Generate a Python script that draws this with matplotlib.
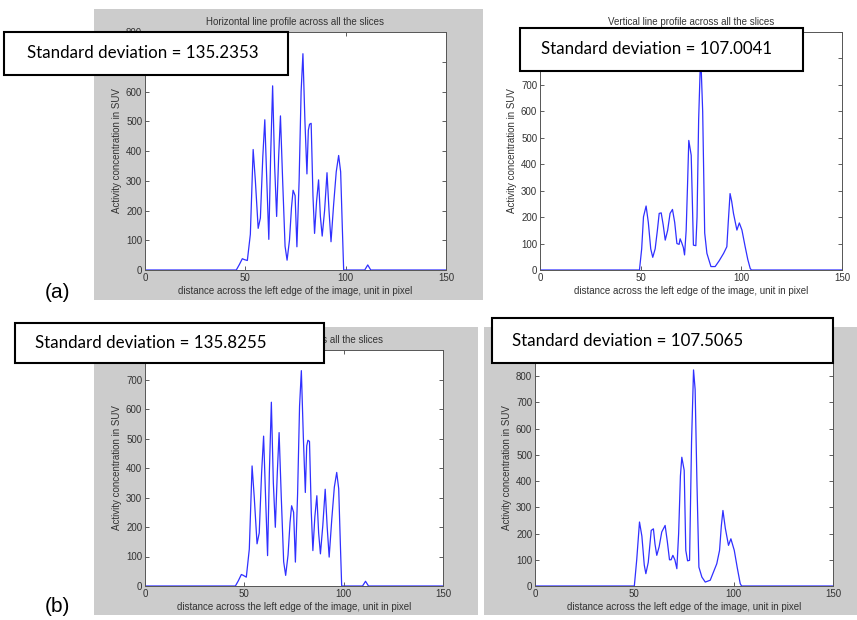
import matplotlib
matplotlib.use("Agg")
import matplotlib.pyplot as plt
from matplotlib.patches import Rectangle

W, H = 857, 620

# horizontal line profile, set (a)
horiz_a_x = [0, 45.5, 47, 48.5, 49.5, 51, 52.5, 53.9, 55, 56.4, 57.5, 58.7, 59.7, 60.7,
             61.7, 62.6, 63.6, 64.6, 65.6, 66.6, 67.5, 68.6, 69.8, 70.8, 72, 73, 73.8,
             74.8, 75.7, 76.8, 77.8, 78.7, 79.7, 80.7, 81.4, 82.0, 82.8, 83.7, 84.5, 85.5,
             86.5, 87.4, 88.3, 89.5, 90.7, 91.7, 92.7, 94, 95.3, 96.5, 97.5, 98.3, 99, 100,
             109.5, 111, 112.5, 150]
horiz_a_y = [0, 0, 18, 38, 35, 32, 120, 405, 300, 140, 175, 380, 505, 300,
             103, 380, 619, 350, 180, 380, 518, 300, 80, 33, 100, 210, 268,
             250, 78, 300, 600, 727, 500, 323, 470, 490, 493, 250, 123, 230,
             303, 180, 114, 200, 327, 200, 95, 220, 330, 385, 330, 150, 0, 0,
             0, 17, 0, 0]

# horizontal line profile, set (b)
horiz_b_x = horiz_a_x
horiz_b_y = [0, 0, 18, 39, 36, 30, 125, 407, 300, 143, 180, 385, 508, 300,
             103, 385, 623, 350, 199, 385, 520, 300, 82, 36, 105, 215, 272,
             250, 81, 310, 610, 730, 505, 317, 475, 494, 490, 250, 120, 235,
             306, 180, 109, 205, 328, 200, 98, 225, 335, 385, 330, 150, 0, 0,
             0, 16, 0, 0]

# vertical line profile, set (a)
vert_a_x = [0, 49.4, 50.5, 51.4, 52.7, 53.8, 55, 56, 57.2, 58.3, 59.2, 60.2, 61.2, 62.2,
            63.4, 64.6, 65.8, 66.9, 68, 69.1, 69.6, 70.4, 71.2, 71.8, 72.6, 73.3, 73.9,
            75.1, 75.7, 76.2, 77.4, 78.0, 78.8, 79.8, 80.8, 81.8, 82.9, 84.9, 87, 89,
            91.2, 92.8, 93.5, 94.4, 95.2, 96.1, 97.8, 99, 100.3, 101.9, 103.2, 104.4,
            105, 150]
vert_a_y = [0, 0, 80, 201, 242, 180, 80, 48, 80, 150, 214, 216, 170, 113,
            150, 214, 229, 180, 100, 97, 118, 103, 85, 57, 150, 327, 490,
            434, 250, 94, 92, 200, 570, 820, 600, 140, 63, 13, 13, 35,
            63, 88, 180, 289, 260, 214, 151, 178, 151, 88, 40, 6,
            0, 0]

# vertical line profile, set (b)
vert_b_x = [0, 50, 51.2, 52.6, 53.8, 55, 55.8, 57, 58.5, 59.6, 60.4, 61.3, 62.5, 63.8,
            65.5, 66.6, 67.7, 68.5, 69.4, 70.4, 71.4, 72.3, 73.2, 73.9, 75.1, 75.9,
            76.8, 77.8, 78.8, 79.8, 80.6, 81.5, 82.5, 84, 85.7, 88.2, 91.5, 92.9, 93.8,
            94.6, 95.8, 97.4, 98.6, 100.3, 101.8, 103.3, 104, 150]
vert_b_y = [0, 0, 100, 244, 190, 80, 47, 90, 212, 218, 160, 117, 150, 206,
            231, 170, 100, 100, 117, 100, 66, 200, 420, 491, 441, 136,
            96, 98, 550, 824, 750, 400, 72, 34, 15, 22, 85, 136, 230,
            288, 220, 155, 180, 136, 70, 9, 0, 0]

std_labels = ["Standard deviation = 135.2353", "Standard deviation = 107.0041",
              "Standard deviation = 135.8255", "Standard deviation = 107.5065"]
titles = ["Horizontal line profile across all the slices",
          "Vertical line profile across all the slices"]
xlabel = "distance across the left edge of the image, unit in pixel"
ylabel = "Activity concentration in SUV"


def px_rect(l, t, r, b):
    """pixel box (left, top, right, bottom) -> figure fraction rect"""
    return [l / W, 1 - b / H, (r - l) / W, (b - t) / H]


def profile_panel(fig, box, x, y, ymax, title):
    ax = fig.add_axes(px_rect(*box))
    ax.plot(x, y, color='#3030ff', lw=0.9)
    ax.set_xlim(0, 150)
    ax.set_ylim(0, ymax)
    ax.set_xticks([0, 50, 100, 150])
    ax.set_yticks(range(0, ymax + 1, 100))
    ax.tick_params(direction='in', top=True, right=True, length=3, width=0.6,
                   labelsize=7, color='#444444', labelcolor='#333333', pad=2)
    for s in ax.spines.values():
        s.set_color('#555555')
        s.set_linewidth(0.7)
    ax.set_title(title, fontsize=7, color='#333333', pad=5)
    ax.set_xlabel(xlabel, fontsize=7, color='#333333', labelpad=2)
    ax.set_ylabel(ylabel, fontsize=7, color='#333333', labelpad=3)
    return ax


plt.rcParams['font.family'] = ['Liberation Sans', 'DejaVu Sans']
fig = plt.figure(figsize=(W / 100, H / 100), dpi=100)

# grey figure backgrounds behind three of the panels
for l, t, r, b in [(94, 9, 483, 300), (94, 327, 478, 615), (484, 327, 857, 615)]:
    fig.add_artist(Rectangle((l / W, 1 - b / H), (r - l) / W, (b - t) / H,
                             transform=fig.transFigure, facecolor='#cccccc',
                             edgecolor='none', zorder=-1))

profile_panel(fig, (145, 32, 446, 270), horiz_a_x, horiz_a_y, 800, titles[0])
profile_panel(fig, (540, 32, 842, 270), vert_a_x, vert_a_y, 900, titles[1])
profile_panel(fig, (145, 350, 443, 586), horiz_b_x, horiz_b_y, 800, titles[0])
profile_panel(fig, (535, 350, 833, 586), vert_b_x, vert_b_y, 900, titles[1])

# standard deviation boxes drawn over the panels
boxes = [(4, 32, 288, 75, 27), (520, 28, 803, 71, 541),
         (15, 323, 324, 363, 35), (492, 318, 833, 363, 512)]
for (l, t, r, b, tx), label in zip(boxes, std_labels):
    fig.add_artist(Rectangle((l / W, 1 - b / H), (r - l) / W, (b - t) / H,
                             transform=fig.transFigure, facecolor='white',
                             edgecolor='black', lw=1.5, zorder=5))
    fig.text(tx / W, 1 - (t + b) / 2 / H, label, fontsize=12.2, family='Lato',
             va='center', ha='left', zorder=6)

fig.text(45 / W, 1 - 292 / H, "(a)", fontsize=15, va='center', ha='left')
fig.text(45 / W, 1 - 607 / H, "(b)", fontsize=15, va='center', ha='left')

fig.savefig("out.png", dpi=100)
